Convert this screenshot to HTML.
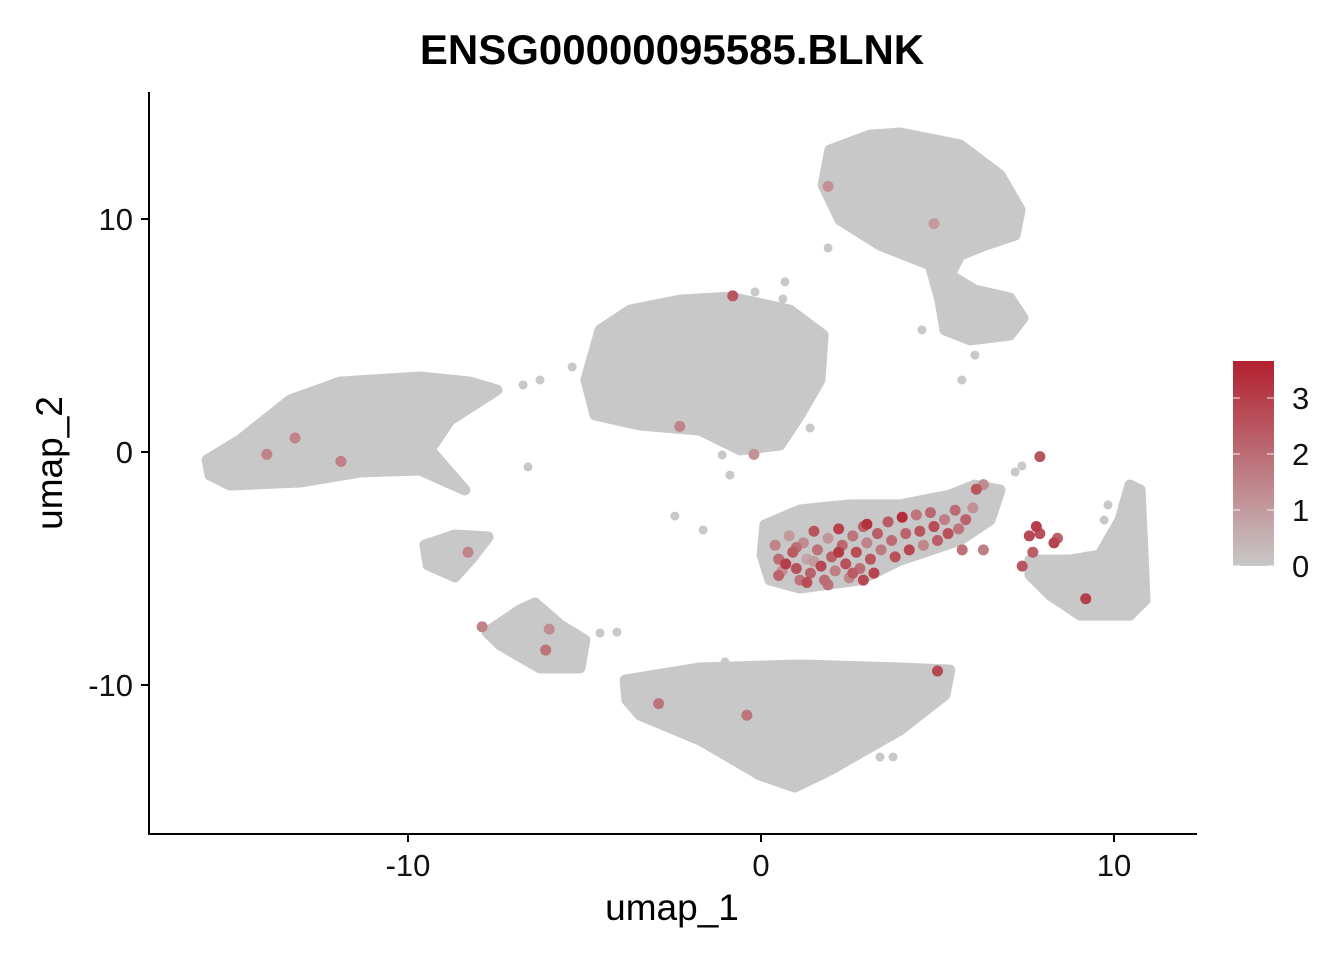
<!DOCTYPE html>
<html><head><meta charset="utf-8"><style>
html,body{margin:0;padding:0;background:#fff;}
svg{display:block;font-family:"Liberation Sans",Arial,sans-serif;}
</style></head><body>
<svg id="chart" width="1344" height="960" viewBox="0 0 1344 960">
<defs><linearGradient id="cg" x1="0" y1="1" x2="0" y2="0">
<stop offset="0" stop-color="#c8c8c8"/><stop offset="1" stop-color="#b2202f"/></linearGradient></defs>
<text x="672" y="64" text-anchor="middle" font-size="42" font-weight="bold">ENSG00000095585.BLNK</text>
<g id="clusters"></g><g id="pts"></g>
<line x1="149" y1="92" x2="149" y2="835" stroke="#000" stroke-width="2"/>
<line x1="148" y1="834" x2="1197" y2="834" stroke="#000" stroke-width="2"/>
<g id="axes"></g>
<text x="672" y="920" text-anchor="middle" font-size="37">umap_1</text>
<text x="0" y="0" transform="translate(62,463) rotate(-90)" text-anchor="middle" font-size="37">umap_2</text>
<g>
<rect x="1233" y="361" width="41" height="205" fill="url(#cg)"/>
<g id="leg"></g></g>
</svg>
<script>
const xTicks=[-10,0,10];
const yTicks=[10,0,-10];
const legendTicks=[0,1,2,3];
const legendMax=3.66;
const clusterA=[[1.95,12.96],[3.09,13.6],[3.94,13.69],[5.64,13.18],[6.77,11.89],[7.34,10.39],[7.2,9.31],[6.35,8.88],[5.64,8.45],[5.35,7.6],[6.06,6.95],[7.05,6.61],[7.42,5.75],[7.05,5.02],[5.92,4.81],[5.21,5.24],[5.07,6.52],[4.79,8.03],[3.37,8.88],[2.24,9.96],[1.76,11.46]];
const clusterB=[[-4.56,5.24],[-3.71,6.09],[-2.29,6.52],[-0.88,6.65],[0.82,6.09],[1.76,5.02],[1.67,3.09],[1.1,1.59],[0.54,0.3],[-0.59,0.09],[-1.73,0.94],[-3.43,1.16],[-4.7,1.59],[-4.96,3.09]];
const clusterC=[[-15.69,-0.34],[-14.76,0.52],[-13.34,2.23],[-11.93,3.0],[-9.66,3.22],[-8.24,3.0],[-7.48,2.66],[-8.81,1.37],[-9.38,0.09],[-8.39,-1.63],[-9.66,-0.77],[-11.36,-0.86],[-13.06,-1.29],[-15.04,-1.42],[-15.61,-0.99]];
const clusterD=[[-9.52,-3.99],[-8.67,-3.56],[-7.73,-3.65],[-8.24,-4.64],[-8.67,-5.36],[-9.43,-4.85]];
const clusterE=[[-7.76,-7.73],[-6.83,-6.78],[-6.4,-6.48],[-5.69,-7.42],[-4.99,-8.07],[-5.13,-9.27],[-6.26,-9.27],[-7.39,-8.28]];
const clusterF=[[-3.85,-9.79],[-1.73,-9.27],[1.1,-9.14],[3.94,-9.27],[5.35,-9.36],[5.21,-10.43],[3.94,-11.93],[1.95,-13.65],[0.96,-14.38],[-0.03,-13.86],[-1.73,-12.36],[-3.43,-11.29],[-3.8,-10.64]];
const clusterG=[[0.11,-3.13],[1.1,-2.49],[2.52,-2.27],[3.94,-2.27],[5.35,-1.85],[6.06,-1.42],[6.77,-1.63],[6.49,-2.92],[5.64,-3.78],[3.94,-4.64],[2.8,-5.49],[1.1,-5.84],[0.25,-5.49],[0.03,-4.42]];
const clusterH=[[7.62,-4.64],[8.75,-4.64],[9.6,-4.42],[10.17,-2.92],[10.45,-1.42],[10.74,-1.63],[10.88,-6.35],[10.45,-7.0],[9.04,-7.0],[8.19,-6.14],[7.62,-5.28]];
const grayX=[1.9,0.68,0.62,-0.17,4.56,5.69,6.06,-6.74,-6.26,-5.35,-6.6,-2.44,-1.64,-0.88,-1.1,1.39,9.72,9.83,3.37,3.74,-4.08,-4.56,7.39,7.2,-1.02,-0.2,10.45,10.25];
const grayY=[8.76,7.3,6.57,6.87,5.24,3.09,4.16,2.88,3.09,3.65,-0.64,-2.75,-3.35,-0.99,-0.13,1.03,-2.92,-2.27,-13.09,-13.09,-7.73,-7.77,-0.6,-0.86,-9.01,-9.14,-1.63,-2.27];
const exprX=[0.4,0.5,0.6,0.8,0.9,1.0,1.1,1.2,1.3,1.4,1.5,1.6,1.7,1.8,1.9,2.0,2.1,2.2,2.3,2.4,2.5,2.6,2.7,2.8,2.9,3.0,3.1,3.2,3.3,3.4,0.7,1.5,2.2,2.6,1.0,3.0,1.3,0.5,1.9,2.9,3.6,3.7,3.8,4.0,4.1,4.2,4.4,4.5,4.6,4.8,4.9,5.0,5.2,5.3,5.5,5.6,5.8,6.0,6.1,6.3,5.7,6.3,7.6,7.8,7.9,8.3,8.4,7.7,7.4,9.2,7.9,-14.0,-11.9,-7.9,-6.1,-6.0,-0.8,-2.3,-0.2,5.0,-2.9,-0.4,1.9,4.9,-8.3,-13.2];
const exprY=[-4.0,-4.6,-5.1,-3.6,-4.3,-5.0,-5.5,-3.9,-4.6,-5.2,-3.4,-4.2,-4.9,-5.5,-3.7,-4.5,-5.1,-3.3,-4.0,-4.8,-5.4,-3.6,-4.3,-5.0,-3.2,-3.9,-4.6,-5.2,-3.5,-4.2,-4.8,-4.7,-4.3,-5.2,-4.1,-3.1,-5.6,-5.3,-5.7,-5.5,-3.0,-3.8,-4.5,-2.8,-3.5,-4.2,-2.7,-3.4,-4.0,-2.6,-3.2,-3.8,-2.9,-3.5,-2.5,-3.3,-2.9,-2.4,-1.6,-1.4,-4.2,-4.2,-3.6,-3.2,-3.5,-3.9,-3.7,-4.3,-4.9,-6.3,-0.2,-0.1,-0.4,-7.5,-8.5,-7.6,6.7,1.1,-0.1,-9.4,-10.8,-11.3,11.4,9.8,-4.3,0.6];
const exprV=[1.5,2.0,1.2,1.0,2.4,2.6,1.8,1.3,0.8,2.2,2.5,1.9,2.8,2.0,1.1,2.3,1.6,2.9,2.1,2.6,1.4,1.8,2.7,2.0,2.2,1.5,2.5,2.9,2.3,1.7,3.0,1.0,3.1,2.4,2.0,3.3,2.7,2.2,1.9,2.8,2.4,2.0,2.6,3.4,2.2,2.8,1.8,2.5,1.4,2.1,2.7,2.3,1.6,2.6,2.0,1.8,2.2,1.2,2.5,1.3,1.9,1.6,2.8,3.0,2.6,2.9,2.2,2.3,2.5,3.0,2.5,1.5,1.6,1.5,1.8,1.3,2.5,1.5,1.2,2.8,1.8,1.8,1.2,1.0,1.5,1.5];

const NS="http://www.w3.org/2000/svg";
const sx=v=>761+v*35.3;
const sy=v=>452-v*23.3;
function col(v){const t=Math.max(0,Math.min(1,v/legendMax));
 const a=[200,200,200],b=[178,32,47];
 return `rgb(${a.map((c,i)=>Math.round(c+(b[i]-c)*t)).join(',')})`;}
const cg=document.getElementById('clusters');
const clusters=[["cluster-top-right",clusterA],["cluster-center",clusterB],["cluster-left",clusterC],["cluster-small-left",clusterD],["cluster-lower-left",clusterE],["cluster-bottom",clusterF],["cluster-blnk-high",clusterG],["cluster-right",clusterH]];
clusters.forEach(([n,pts])=>{
 const p=document.createElementNS(NS,'polygon');
 p.setAttribute('points',pts.map(q=>sx(q[0])+','+sy(q[1])).join(' '));
 p.setAttribute('fill','#c8c8c8');p.setAttribute('stroke','#c8c8c8');
 p.setAttribute('stroke-width','11');p.setAttribute('stroke-linejoin','round');
 
 
 cg.appendChild(p);
});
const pg=document.getElementById('pts');
grayX.forEach((x,i)=>{
 const c=document.createElementNS(NS,'circle');
 c.setAttribute('cx',sx(x));c.setAttribute('cy',sy(grayY[i]));c.setAttribute('r',4.5);c.setAttribute('fill','#c8c8c8');
 
 
 pg.appendChild(c);
});
const idx=exprV.map((v,i)=>i).sort((a,b)=>exprV[a]-exprV[b]);
idx.forEach(i=>{
 const c=document.createElementNS(NS,'circle');
 c.setAttribute('cx',sx(exprX[i]));c.setAttribute('cy',sy(exprY[i]));c.setAttribute('r',5.5);c.setAttribute('fill',col(exprV[i]));
 
 
 pg.appendChild(c);
});
const ax=document.getElementById('axes');
xTicks.forEach(t=>{
 const l=document.createElementNS(NS,'line');
 l.setAttribute('x1',sx(t));l.setAttribute('x2',sx(t));l.setAttribute('y1',834);l.setAttribute('y2',842);l.setAttribute('stroke','#000');l.setAttribute('stroke-width',2);
 
 
 ax.appendChild(l);
 const tx=document.createElementNS(NS,'text');
 tx.setAttribute('x',sx(t));tx.setAttribute('y',876);tx.setAttribute('text-anchor','middle');tx.setAttribute('font-size','31');tx.setAttribute('fill','#111');
 tx.textContent=t;
 
 
 ax.appendChild(tx);
});
yTicks.forEach(t=>{
 const l=document.createElementNS(NS,'line');
 l.setAttribute('x1',141);l.setAttribute('x2',149);l.setAttribute('y1',sy(t));l.setAttribute('y2',sy(t));l.setAttribute('stroke','#000');l.setAttribute('stroke-width',2);
 
 
 ax.appendChild(l);
 const tx=document.createElementNS(NS,'text');
 tx.setAttribute('x',133);tx.setAttribute('y',sy(t)+11);tx.setAttribute('text-anchor','end');tx.setAttribute('font-size','31');tx.setAttribute('fill','#111');
 tx.textContent=t;
 
 
 ax.appendChild(tx);
});
const lg=document.getElementById('leg');
const ly=v=>566-v*56;
legendTicks.forEach(t=>{
 [[1233,1240],[1267,1274]].forEach(([a,b])=>{
  const l=document.createElementNS(NS,'line');
  l.setAttribute('x1',a);l.setAttribute('x2',b);l.setAttribute('y1',ly(t));l.setAttribute('y2',ly(t));l.setAttribute('stroke','#fff');l.setAttribute('stroke-width',1.5);l.setAttribute('opacity',0.6);
  
  
  lg.appendChild(l);
 });
 const tx=document.createElementNS(NS,'text');
 tx.setAttribute('x',1292);tx.setAttribute('y',ly(t)+11);tx.setAttribute('font-size','31');tx.setAttribute('fill','#111');
 tx.textContent=t;
 
 
 lg.appendChild(tx);
});
</script>
</body></html>
